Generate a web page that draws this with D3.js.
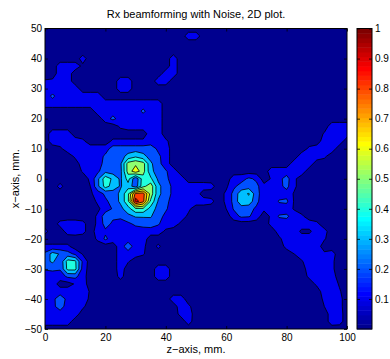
<!DOCTYPE html>
<html>
<head>
<meta charset="utf-8">
<script src="https://cdn.jsdelivr.net/npm/d3@7"></script>
<style>
  html, body { margin: 0; padding: 0; background: #fff; }
  svg { display: block; font-family: "Liberation Sans", Arial, Helvetica, sans-serif; }
</style>
</head>
<body>
<svg id="chart" width="390" height="359"></svg>
<script>
// Normalised receive-beam power sampled on a 2.5 mm grid.
// Columns run along z (0 .. 100 mm), rows run along x (50 mm at the top down to -50 mm).
const gridStep = 2.5;
const zSamples = d3.range(0, 100 + 1e-9, gridStep);   // 41 columns
const xSamples = d3.range(50, -50 - 1e-9, -gridStep); // 41 rows

// Each row lists "column:percent" or "first-last:percent"; unlisted cells hold the floor value.
const floorPercent = 5;
const powerRows = [
  "",
  "19-20:15",
  "",
  "",
  "5:14 17:15",
  "2-4:15 5:8 17:15",
  "2-3:15 16-17:15",
  "0:11 1:12 2-3:15 10-11:15 15-16:15",
  "0-4:15 10-11:15",
  "0:15 1:22 2-7:15",
  "0-15:15",
  "7-12:15 13:22 14-15:15",
  "8:15 9:23 10-15:15",
  "10:12 11-15:15 38-40:15",
  "1-3:15 14-15:15 37:11 38-40:15",
  "1-4:15 5:12 9-13:12 14-15:15 16:12 37-39:15",
  "2:8 3-8:15 9-14:25 15:18 16:15 35:12 36-38:15",
  "4:12 5-7:15 8:22 9:25 10:26 11:33 12:38 13:33 14:26 15:22 16:15 34-36:15 37:12",
  "5-7:15 8:24 9:25 10:28 11:54 12:58 13:54 14:32 15:23 16:15 33-35:15",
  "5:11 6:15 7:18 8:27 9:25 10:27 11:54 12:66 13:54 14:33 15:25 16:21 17:15 30-34:15",
  "6:12 7:28 8:46 9:38 10:28 11:44 12:22 13:46 14:42 15:28 16:22 17:16 18:15 25:15 26:16 27:22 28:18 30:11 31:17 32:24 33:12",
  "2:13 6:10 7:28 8:44 9:36 10:29 11:36 12:24 13:47 14:56 15:33 16:24 17:18 18-21:15 22:14 24:8 25:18 26:24 27:25 28:23 29:13 30:11 31:17 32:23 33:12",
  "6:8 7:15 8:22 9:25 10:32 11:48 12:83 13:84 14:56 15:33 16:24 17:18 18-20:15 24:12 25:23 26:36 27:41 28:24 29:14 30:11 31:15 32:16 33:9",
  "7:12 8:18 9:24 10:32 11:48 12:95 13:83 14:48 15:29 16:22 17:17 18:15 19:14 20-21:15 22:13 24:12 25:23 26:37 27:36 28:23 29:13 30:11 31:21 32:22 33:9",
  "7:8 8:15 9:21 10:27 11:36 12:48 13:48 14:36 15:26 16:21 17:16 18:15 19:12 24:10 25:21 26:25 27:24 28:18 29:12 30:11 31-32:15 33:9",
  "7:12 8:26 9:22 10:22 11:27 12:31 13:31 14:31 15:23 16:18 17-18:15 19:8 25:15 26:22 27:21 28:15 30:12 31:21 32:22 33:15 34:12",
  "2:13 3-4:15 5:13 7:12 8:24 9:18 10:16 11:18 12:22 13:24 14:25 15:21 16-17:15 18:8 30:13 31-35:15 36:12",
  "0:13 3:14 4:15 5:13 7:15 8:18 9-15:15 16:8 31:14 32-33:15 34-35:8 36:15 37:13",
  "7:12 8:22 9-13:15 31:8 32-36:15 37:11",
  "0-3:12 10:15 11:26 12:15 13:12 15:12 32:13 33-36:15",
  "0:22 1:34 2:29 3:24 4:18 5:9 10-11:15 12:14 13:11 33:10 34-36:15 37:12 38:14",
  "0:26 1:32 2:22 3:44 4:42 5:18 10:15 11:11 34:9 35-37:15 38:12",
  "0:21 1:22 2:21 3:43 4:43 5:16 10:15 15-16:15 35-37:15 38:12",
  "0-2:15 3:22 4:23 5:14 10:13 15-16:15 35:12 36-38:15",
  "0-1:15 2-3:6 4:11 5:15 36:12 37-38:15 39:9",
  "0-5:15 6:9 37-38:15 39:11",
  "0:15 1:17 2:26 3:17 4-5:15 6:8 17-18:15 37:12 38:15 39:13",
  "0:15 1:17 2:25 3-4:15 5:12 18:15 19:12 37:10 38:15 39:13",
  "0-4:15 18:13 19:15 38:15 39:14",
  "0-3:15 19:14 38:15 39:14",
  ""
];

const contourLevels = [0.1, 0.2, 0.3, 0.4, 0.5, 0.6, 0.7, 0.8, 0.9];
const zTicks = [0, 20, 40, 60, 80, 100];
const xTicks = [50, 40, 30, 20, 10, 0, -10, -20, -30, -40, -50];
const colorbarTicks = [0.1, 0.2, 0.3, 0.4, 0.5, 0.6, 0.7, 0.8, 0.9, 1];

const titleText = "Rx beamforming with Noise, 2D plot.";
const zLabelText = "z\u2212axis, mm.";
const xLabelText = "x\u2212axis, mm.";

// ---- helpers ---------------------------------------------------------------
function parseRow(spec) {
  const row = new Array(zSamples.length).fill(floorPercent / 100);
  spec.trim().split(/\s+/).filter(Boolean).forEach(tok => {
    const [cols, pct] = tok.split(":");
    const [a, b] = cols.split("-").map(Number);
    const last = Number.isFinite(b) ? b : a;
    for (let j = a; j <= last; j++) row[j] = +pct / 100;
  });
  return row;
}

// MATLAB-style jet colormap with m entries
function jet(m) {
  const n = Math.ceil(m / 4);
  const u = [
    ...d3.range(1, n + 1).map(i => i / n),
    ...new Array(n - 1).fill(1),
    ...d3.range(n, 0, -1).map(i => i / n)
  ];
  const g0 = Math.ceil(n / 2) - (m % 4 === 1 ? 1 : 0);
  const rgb = Array.from({ length: m }, () => [0, 0, 0]);
  u.forEach((val, i) => {
    const g = g0 + i + 1, r = g + n, b = g - n;
    if (g >= 1 && g <= m) rgb[g - 1][1] = val;
    if (r >= 1 && r <= m) rgb[r - 1][0] = val;
    if (b >= 1 && b <= m) rgb[b - 1][2] = val;
  });
  return rgb.map(([r, g, b]) => d3.rgb(Math.round(r * 255), Math.round(g * 255), Math.round(b * 255)).formatHex());
}
const jetMap = jet(64);
const levelColor = v => jetMap[Math.max(0, Math.min(63, Math.floor(v * 64 + 1e-9)))];

// ---- layout ----------------------------------------------------------------
const svg = d3.select("#chart");
const plot = { left: 45, right: 347, top: 28.5, bottom: 329 };
const bar = { left: 357, right: 372 };

const zScale = d3.scaleLinear().domain([0, 100]).range([plot.left, plot.right]);
const xScale = d3.scaleLinear().domain([-50, 50]).range([plot.bottom, plot.top]);
const cScale = d3.scaleLinear().domain([0, 1]).range([plot.bottom, plot.top]);

// ---- filled contours -------------------------------------------------------
const values = powerRows.map(parseRow).flat();
const bands = d3.contours()
  .size([zSamples.length, xSamples.length])
  .thresholds(contourLevels)(values);

// grid sample k sits at contour coordinate k + 0.5
const gridToPlot = d3.geoTransform({
  point(c, r) {
    this.stream.point(
      zScale(zSamples[0] + (c - 0.5) * gridStep),
      xScale(xSamples[0] - (r - 0.5) * gridStep)
    );
  }
});
const path = d3.geoPath(gridToPlot);

svg.append("defs").append("clipPath").attr("id", "plotClip")
  .append("rect")
  .attr("x", plot.left).attr("y", plot.top)
  .attr("width", plot.right - plot.left).attr("height", plot.bottom - plot.top);

const field = svg.append("g").attr("clip-path", "url(#plotClip)");
field.append("rect")
  .attr("x", plot.left).attr("y", plot.top)
  .attr("width", plot.right - plot.left).attr("height", plot.bottom - plot.top)
  .attr("fill", levelColor(0));

field.selectAll("path.band")
  .data(bands)
  .join("path")
  .attr("class", "band")
  .attr("d", path)
  .attr("fill", d => levelColor(d.value))
  .attr("stroke", "#000")
  .attr("stroke-width", 0.8)
  .attr("stroke-linejoin", "round");

// ---- axes ------------------------------------------------------------------
const tickLen = 3;
const fmtTick = d => (d < 0 ? "\u2212" + Math.abs(d) : String(d));

function styleAxis(g) {
  g.select(".domain").remove();
  g.selectAll("line").attr("stroke", "#000").attr("stroke-width", 0.8);
  g.selectAll("text").attr("fill", "#000").attr("font-size", 10)
    .attr("font-family", "'Liberation Sans', Arial, Helvetica, sans-serif");
}

svg.append("g")
  .attr("transform", `translate(0,${plot.bottom})`)
  .call(d3.axisBottom(zScale).tickValues(zTicks).tickSizeInner(-tickLen).tickSizeOuter(0).tickPadding(5).tickFormat(fmtTick))
  .call(styleAxis);
svg.append("g")
  .attr("transform", `translate(0,${plot.top})`)
  .call(d3.axisTop(zScale).tickValues(zTicks).tickSizeInner(-tickLen).tickSizeOuter(0).tickFormat(""))
  .call(styleAxis);
svg.append("g")
  .attr("transform", `translate(${plot.left},0)`)
  .call(d3.axisLeft(xScale).tickValues(xTicks).tickSizeInner(-tickLen).tickSizeOuter(0).tickPadding(3).tickFormat(fmtTick))
  .call(styleAxis);
svg.append("g")
  .attr("transform", `translate(${plot.right},0)`)
  .call(d3.axisRight(xScale).tickValues(xTicks).tickSizeInner(-tickLen).tickSizeOuter(0).tickFormat(""))
  .call(styleAxis);

svg.append("rect")
  .attr("x", plot.left).attr("y", plot.top)
  .attr("width", plot.right - plot.left).attr("height", plot.bottom - plot.top)
  .attr("fill", "none").attr("stroke", "#000").attr("stroke-width", 1);

// ---- colorbar --------------------------------------------------------------
const cbar = svg.append("g");
cbar.selectAll("rect.swatch")
  .data(jetMap)
  .join("rect")
  .attr("class", "swatch")
  .attr("x", bar.left)
  .attr("width", bar.right - bar.left)
  .attr("y", (d, i) => cScale((i + 1) / 64))
  .attr("height", (d, i) => cScale(i / 64) - cScale((i + 1) / 64) + 0.5)
  .attr("fill", d => d);

cbar.append("g")
  .attr("transform", `translate(${bar.right},0)`)
  .call(d3.axisRight(cScale).tickValues(colorbarTicks).tickSizeInner(-tickLen).tickSizeOuter(0).tickPadding(3).tickFormat(d3.format("")))
  .call(styleAxis);
cbar.append("g")
  .attr("transform", `translate(${bar.left},0)`)
  .call(d3.axisLeft(cScale).tickValues(colorbarTicks).tickSizeInner(-tickLen).tickSizeOuter(0).tickFormat(""))
  .call(styleAxis);
cbar.append("rect")
  .attr("x", bar.left).attr("y", plot.top)
  .attr("width", bar.right - bar.left).attr("height", plot.bottom - plot.top)
  .attr("fill", "none").attr("stroke", "#000").attr("stroke-width", 1);

// ---- titles ----------------------------------------------------------------
const midZ = (plot.left + plot.right) / 2;
svg.append("text")
  .attr("x", midZ).attr("y", 18)
  .attr("text-anchor", "middle").attr("font-size", 11).attr("fill", "#000")
  .text(titleText);
svg.append("text")
  .attr("x", midZ).attr("y", 353)
  .attr("text-anchor", "middle").attr("font-size", 11).attr("fill", "#000")
  .text(zLabelText);
svg.append("text")
  .attr("transform", `translate(19,${(plot.top + plot.bottom) / 2}) rotate(-90)`)
  .attr("text-anchor", "middle").attr("font-size", 11).attr("fill", "#000")
  .text(xLabelText);
</script>
</body>
</html>
